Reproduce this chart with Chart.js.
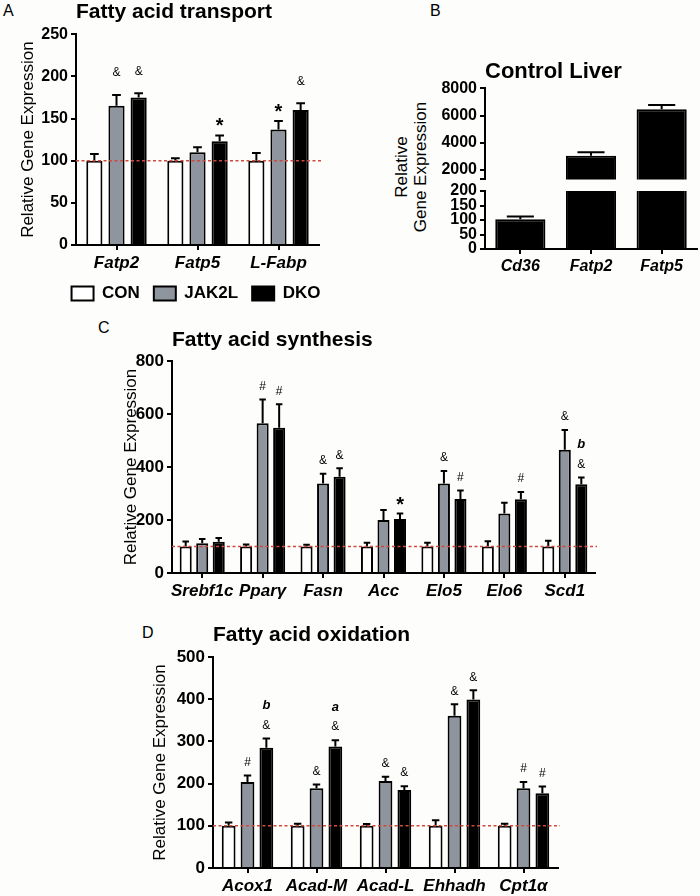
<!DOCTYPE html>
<html>
  <head>
    <title>Fatty acid gene expression</title>
    <script src="https://cdn.jsdelivr.net/npm/chart.js"></script>
    <style>
      body { margin: 0; width: 700px; height: 896px; position: relative; overflow: hidden; background: #fdfdfb; font-family: "Liberation Sans", Arial, sans-serif; color: #000; }
      .panel { position: absolute; }
      .letter { position: absolute; font-size: 16px; line-height: 16px; }
      .ytitle { position: absolute; font-size: 17px; line-height: 19px; text-align: center; white-space: nowrap; transform: translate(-50%, -50%) rotate(-90deg); }
    </style>
  </head>
  <body>
    <div class="letter" style="left:3px;top:3px">A</div>
    <div class="letter" style="left:430px;top:3px">B</div>
    <div class="letter" style="left:98px;top:320px">C</div>
    <div class="letter" style="left:142px;top:625px">D</div>
    <div class="ytitle" style="left:411px;top:167px">Relative<br>Gene Expression</div>

    <div class="panel" style="left:0;top:0;width:390px;height:312px"><canvas id="chartA"></canvas></div>
    <div class="panel" style="left:400px;top:50px;width:300px;height:142px"><canvas id="chartB1"></canvas></div>
    <div class="panel" style="left:400px;top:176px;width:300px;height:106px"><canvas id="chartB2"></canvas></div>
    <div class="panel" style="left:100px;top:316px;width:510px;height:287px"><canvas id="chartC"></canvas></div>
    <div class="panel" style="left:140px;top:612px;width:440px;height:284px"><canvas id="chartD"></canvas></div>

    <script>
      var groups = ["CON", "JAK2L", "DKO"];

      // A - fatty acid transport
      var transportGenes = ["Fatp2", "Fatp5", "L-Fabp"];
      var transportCon = [100, 100, 100];
      var transportConErr = [8, 3, 9];
      var transportJak = [165, 110, 137];
      var transportJakErr = [13, 6, 10];
      var transportDko = [175, 123, 160];
      var transportDkoErr = [5, 7, 8];
      var transportJakMarks = ["&", "", "*"];
      var transportDkoMarks = ["&", "*", "&"];

      // B - control liver (broken axis)
      var liverGenes = ["Cd36", "Fatp2", "Fatp5"];
      var liverValues = [103, 3050, 6470];
      var liverErr = [9, 250, 300];
      var liverUpperTicks = [2000, 4000, 6000, 8000];
      var liverLowerTicks = [0, 50, 100, 150, 200];

      // C - fatty acid synthesis
      var synthGenes = ["Srebf1c", "Pparγ", "Fasn", "Acc", "Elo5", "Elo6", "Scd1"];
      var synthCon = [100, 100, 100, 100, 100, 100, 100];
      var synthConErr = [19, 8, 7, 14, 14, 20, 22];
      var synthJak = [112, 565, 338, 200, 338, 225, 465];
      var synthJakErr = [16, 90, 37, 38, 47, 40, 75];
      var synthDko = [118, 548, 363, 204, 279, 278, 335];
      var synthDkoErr = [14, 89, 32, 21, 32, 28, 25];
      var synthJakMarks = ["", "#", "&", "", "&", "", "&"];
      var synthDkoMarks = ["", "#", "&", "*", "#", "#", "b|&"];

      // D - fatty acid oxidation
      var oxGenes = ["Acox1", "Acad-M", "Acad-L", "Ehhadh", "Cpt1α"];
      var oxCon = [100, 100, 100, 100, 100];
      var oxConErr = [8, 5, 4, 13, 5];
      var oxJak = [204, 189, 206, 361, 189];
      var oxJakErr = [15, 9, 10, 27, 15];
      var oxDko = [285, 288, 185, 399, 177];
      var oxDkoErr = [22, 15, 9, 22, 16];
      var oxJakMarks = ["#", "&", "&", "&", "#"];
      var oxDkoMarks = ["b|&", "a|&", "&", "&", "#"];

      var FONT = '"Liberation Sans", Arial, sans-serif';
      var BREAK_AT = 1300;
      Chart.defaults.font.family = FONT;
      Chart.defaults.color = "#000";

      // dotted red line at control level
      var refLine = {
        id: "refLine",
        afterDatasetsDraw: function (chart, args, opts) {
          if (!opts.value) return;
          var ctx = chart.ctx, a = chart.chartArea;
          var y = chart.scales.y.getPixelForValue(opts.value);
          ctx.save();
          ctx.strokeStyle = "#cf4a3c";
          ctx.lineWidth = 1.5;
          ctx.setLineDash([3, 2.5]);
          ctx.beginPath();
          ctx.moveTo(a.left, y);
          ctx.lineTo(a.right + 2, y);
          ctx.stroke();
          ctx.restore();
        }
      };

      // upper SEM whiskers plus significance marks
      var errorBars = {
        id: "errorBars",
        afterDatasetsDraw: function (chart, args, opts) {
          var ctx = chart.ctx, a = chart.chartArea, yScale = chart.scales.y;
          chart.data.datasets.forEach(function (ds, i) {
            var meta = chart.getDatasetMeta(i);
            meta.data.forEach(function (bar, j) {
              var v = ds.data[j];
              var yBar = yScale.getPixelForValue(v);
              var yTop = yScale.getPixelForValue(v + ds.errors[j]);
              var half = bar.width * 0.27;
              ctx.save();
              ctx.beginPath();
              ctx.rect(a.left, a.top - 2, a.right - a.left, a.bottom - a.top + 2);
              ctx.clip();
              ctx.strokeStyle = "#000";
              ctx.lineWidth = 2;
              ctx.beginPath();
              ctx.moveTo(bar.x, yBar);
              ctx.lineTo(bar.x, yTop);
              ctx.moveTo(bar.x - half, yTop);
              ctx.lineTo(bar.x + half, yTop);
              ctx.stroke();
              ctx.restore();

              var m = ds.marks ? ds.marks[j] : "";
              if (!m) return;
              var lines = m.split("|");
              ctx.save();
              ctx.fillStyle = "#000";
              ctx.textAlign = "center";
              ctx.textBaseline = "middle";
              for (var k = 0; k < lines.length; k++) {
                var t = lines[lines.length - 1 - k];
                var y = yTop - opts.gap - k * 20;
                if (t === "*") {
                  ctx.font = "bold 20px " + FONT;
                  y = yTop - opts.starGap + 5;
                } else if (t === "a" || t === "b") {
                  ctx.font = "italic bold 13px " + FONT;
                } else {
                  ctx.font = "12px " + FONT;
                }
                ctx.fillText(t, bar.x, y);
              }
              ctx.restore();
            });
          });
        }
      };

      function barSet(label, data, errors, marks, fill) {
        return {
          label: label,
          data: data,
          errors: errors,
          marks: marks,
          backgroundColor: fill,
          borderColor: "#000",
          borderWidth: 2,
          categoryPercentage: 0.82,
          barPercentage: 0.73,
          clip: 0
        };
      }

      function xAxis(size, height) {
        return {
          grid: { offset: false, drawOnChartArea: false, color: "#000", lineWidth: 2, tickLength: 5 },
          border: { color: "#000", width: 2 },
          ticks: { padding: 3, autoSkip: false, maxRotation: 0, font: { size: size, weight: "bold", style: "italic" } },
          afterFit: function (s) { s.height = height; }
        };
      }

      function yAxis(max, step, width, titlePad, size) {
        return {
          min: 0,
          max: max,
          grid: { drawOnChartArea: false, color: "#000", lineWidth: 2, tickLength: 5 },
          border: { color: "#000", width: 2 },
          ticks: { stepSize: step, padding: 3, autoSkip: false, font: { size: size, weight: "bold" } },
          title: { display: true, text: "Relative Gene Expression", font: { size: 17 }, padding: { top: titlePad, bottom: 0 } },
          afterFit: function (s) { s.width = width; }
        };
      }

      function panelTitle(text, size, top, bottom) {
        return { display: true, text: text, align: "start", fullSize: false, color: "#000",
                 font: { size: size, weight: "bold" }, padding: { top: top, bottom: bottom } };
      }

      // A
      new Chart(document.getElementById("chartA"), {
        type: "bar",
        data: {
          labels: transportGenes,
          datasets: [
            barSet(groups[0], transportCon, transportConErr, [], "#ffffff"),
            barSet(groups[1], transportJak, transportJakErr, transportJakMarks, "#8f959e"),
            barSet(groups[2], transportDko, transportDkoErr, transportDkoMarks, "#000000")
          ]
        },
        options: {
          responsive: true, maintainAspectRatio: false, animation: false,
          layout: { padding: { left: 4, right: 2, top: 0, bottom: 0 } },
          scales: {
            x: xAxis(17, 26),
            y: yAxis(250, 50, 72, 13.8, 16),
            y2: { type: "linear", position: "right", grid: { display: false }, border: { display: false },
                  ticks: { display: false }, afterFit: function (s) { s.width = 69; } }
          },
          plugins: {
            title: panelTitle("Fatty acid transport", 21, 0, 9),
            legend: { position: "bottom", labels: { boxWidth: 22, boxHeight: 14, padding: 14, color: "#000", font: { size: 17, weight: "bold" } } },
            tooltip: { enabled: false },
            refLine: { value: 100 },
            errorBars: { gap: 22, starGap: 14 }
          }
        },
        plugins: [errorBars, refLine]
      });

      // B upper segment
      new Chart(document.getElementById("chartB1"), {
        type: "bar",
        data: {
          labels: liverGenes,
          datasets: [{ data: liverValues, errors: liverErr, backgroundColor: "#000", borderColor: "#000",
                       borderWidth: 2, categoryPercentage: 0.71, barPercentage: 1, clip: 0 }]
        },
        options: {
          responsive: true, maintainAspectRatio: false, animation: false,
          layout: { padding: { left: 0, right: 3, top: 0, bottom: 10 } },
          scales: {
            x: { display: false },
            y: {
              min: BREAK_AT, max: 8000,
              afterBuildTicks: function (s) {
                s.ticks = [BREAK_AT].concat(liverUpperTicks).map(function (v) { return { value: v }; });
              },
              grid: { drawOnChartArea: false, color: "#000", lineWidth: 2, tickLength: 5 },
              border: { color: "#000", width: 2 },
              ticks: { padding: 3, autoSkip: false, font: { size: 16, weight: "bold" },
                       callback: function (v) { return v === BREAK_AT ? "" : String(v); } },
              afterFit: function (s) { s.width = 85; }
            }
          },
          plugins: {
            title: panelTitle("Control Liver", 22, 9, 3),
            legend: { display: false },
            tooltip: { enabled: false },
            errorBars: { gap: 13, starGap: 13 }
          }
        },
        plugins: [errorBars]
      });

      // B lower segment
      new Chart(document.getElementById("chartB2"), {
        type: "bar",
        data: {
          labels: liverGenes,
          datasets: [{ data: liverValues, errors: liverErr, backgroundColor: "#000", borderColor: "#000",
                       borderWidth: 2, categoryPercentage: 0.71, barPercentage: 1, clip: 0 }]
        },
        options: {
          responsive: true, maintainAspectRatio: false, animation: false,
          layout: { padding: { left: 0, right: 3, top: 15, bottom: 5 } },
          scales: {
            x: xAxis(16, 28),
            y: {
              min: 0, max: 200,
              afterBuildTicks: function (s) {
                s.ticks = liverLowerTicks.map(function (v) { return { value: v }; });
              },
              grid: { drawOnChartArea: false, color: "#000", lineWidth: 2, tickLength: 5 },
              border: { color: "#000", width: 2 },
              ticks: { padding: 3, autoSkip: false, font: { size: 16, weight: "bold" } },
              afterFit: function (s) { s.width = 85; }
            }
          },
          plugins: {
            legend: { display: false },
            tooltip: { enabled: false },
            errorBars: { gap: 13, starGap: 13 }
          }
        },
        plugins: [errorBars]
      });

      // C
      new Chart(document.getElementById("chartC"), {
        type: "bar",
        data: {
          labels: synthGenes,
          datasets: [
            barSet(groups[0], synthCon, synthConErr, [], "#ffffff"),
            barSet(groups[1], synthJak, synthJakErr, synthJakMarks, "#8f959e"),
            barSet(groups[2], synthDko, synthDkoErr, synthDkoMarks, "#000000")
          ]
        },
        options: {
          responsive: true, maintainAspectRatio: false, animation: false,
          layout: { padding: { left: 0, right: 15, top: 0, bottom: 2 } },
          scales: {
            x: xAxis(17, 28),
            y: yAxis(800, 200, 72, 20.8, 17)
          },
          plugins: {
            title: panelTitle("Fatty acid synthesis", 21, 11.4, 8.4),
            legend: { display: false },
            tooltip: { enabled: false },
            refLine: { value: 100 },
            errorBars: { gap: 13, starGap: 13 }
          }
        },
        plugins: [errorBars, refLine]
      });

      // D
      new Chart(document.getElementById("chartD"), {
        type: "bar",
        data: {
          labels: oxGenes,
          datasets: [
            barSet(groups[0], oxCon, oxConErr, [], "#ffffff"),
            barSet(groups[1], oxJak, oxJakErr, oxJakMarks, "#8f959e"),
            barSet(groups[2], oxDko, oxDkoErr, oxDkoMarks, "#000000")
          ]
        },
        options: {
          responsive: true, maintainAspectRatio: false, animation: false,
          layout: { padding: { left: 0, right: 22, top: 0, bottom: 0 } },
          scales: {
            x: xAxis(17, 28),
            y: yAxis(500, 100, 73, 9.8, 17)
          },
          plugins: {
            title: panelTitle("Fatty acid oxidation", 21, 10.4, 9.4),
            legend: { display: false },
            tooltip: { enabled: false },
            refLine: { value: 100 },
            errorBars: { gap: 13, starGap: 13 }
          }
        },
        plugins: [errorBars, refLine]
      });
    </script>
  </body>
</html>
